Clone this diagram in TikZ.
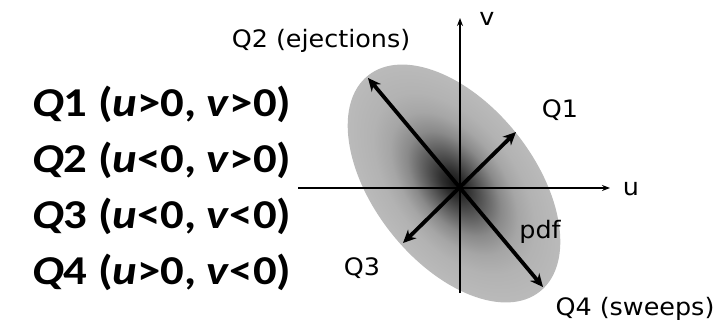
\documentclass[tikz,border=0pt]{standalone}
\usepackage{graphicx}
\usepackage{fontspec}
\setmainfont{Carlito}
\newfontfamily\verd{DejaVu Sans}
\usetikzlibrary{arrows.meta}
\newcommand\lstretch[1]{\scalebox{1.14}[1]{#1}}
\newcommand\rstretch[1]{\scalebox{1.06}[1]{#1}}
\pgfdeclareradialshading{pdfshade}{\pgfpoint{0bp}{0bp}}{color(0bp)=(black!92); color(3bp)=(black!82); color(7bp)=(black!64); color(11bp)=(black!46); color(15bp)=(black!35); color(19bp)=(black!30); color(25bp)=(black!27); color(50bp)=(black!27)}
\tikzset{
  axisline/.style={line width=1.4pt, -{Stealth[length=8pt,width=6pt]}},
  quadarrow/.style={line width=3.8pt, {Stealth[length=13pt,width=12pt]}-{Stealth[length=13pt,width=12pt]}},
  lbl/.style={font=\verd\fontsize{24}{28}\selectfont, inner sep=0pt},
  leftlbl/.style={font=\fontsize{41}{48}\selectfont\bfseries, inner sep=0pt, anchor=base west}
}
\begin{document}
\begin{tikzpicture}[x=1pt,y=1pt]
\useasboundingbox (0,0) rectangle (722,327);
\begin{scope}[transform canvas={shift={(454,143.5)}, rotate=-51.5}]
  \shade[shading=pdfshade] (0,0) ellipse [x radius=138, y radius=80];
\end{scope}
\coordinate (O) at (460,139);
\coordinate (xl) at (298,139);
\coordinate (xr) at (610,139);
\coordinate (yb) at (460,34);
\coordinate (yt) at (460,309);
\coordinate (q1) at (516,195);
\coordinate (q2) at (368,249);
\coordinate (q3) at (403,84);
\coordinate (q4) at (543,40);
\draw[axisline] (xl) -- (xr);
\draw[axisline] (yb) -- (yt);
\draw[quadarrow] (q2) -- (q4);
\draw[quadarrow] (q3) -- (q1);
\node[lbl] (lu) at (631,138) {\rstretch{u}};
\node[lbl] (lv) at (487,308.5) {\rstretch{v}};
\node[lbl] (lq2) at (321,286) {\rstretch{Q2 (ejections)}};
\node[lbl] (lq1) at (560,217) {\rstretch{Q1}};
\node[lbl] (lq3) at (362,59) {\rstretch{Q3}};
\node[lbl] (lq4) at (635,18) {\rstretch{Q4 (sweeps)}};
\node[lbl] (lpdf) at (540,95) {\rstretch{pdf}};
\node[leftlbl] (t1) at (32,210) {\lstretch{\textit{Q}1 (\textit{u}>0, \textit{v}>0)}};
\node[leftlbl] (t2) at (32,155) {\lstretch{\textit{Q}2 (\textit{u}<0, \textit{v}>0)}};
\node[leftlbl] (t3) at (32,99) {\lstretch{\textit{Q}3 (\textit{u}<0, \textit{v}<0)}};
\node[leftlbl] (t4) at (32,43) {\lstretch{\textit{Q}4 (\textit{u}>0, \textit{v}<0)}};
\end{tikzpicture}
\end{document}
